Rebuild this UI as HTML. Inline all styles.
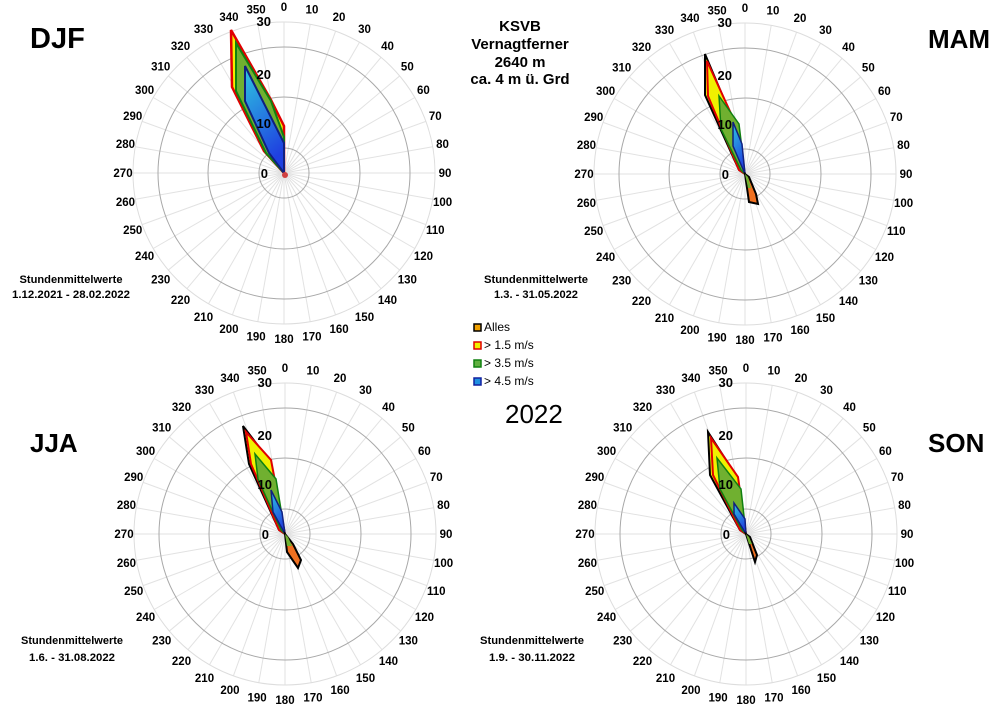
<!DOCTYPE html>
<html><head><meta charset="utf-8"><style>
body{margin:0;background:#fff;}
svg{display:block;font-family:"Liberation Sans",sans-serif;}
</style></head><body>
<svg id="s" width="1005" height="710" viewBox="0 0 1005 710" xmlns="http://www.w3.org/2000/svg">
<defs>
<linearGradient id="bl" x1="0" y1="0" x2="0.3" y2="1"><stop offset="0" stop-color="#2ec8e0"/><stop offset="1" stop-color="#1f3fe0"/></linearGradient>
</defs>
<g id="grids"></g>
<g font-weight="bold" fill="#000">
<text x="30" y="48" font-size="29">DJF</text>
<text x="928" y="48" font-size="26">MAM</text>
<text x="30" y="452" font-size="26">JJA</text>
<text x="928" y="452" font-size="26">SON</text>
<g font-size="15" text-anchor="middle">
<text x="520" y="31">KSVB</text><text x="520" y="49">Vernagtferner</text><text x="520" y="67">2640 m</text><text x="520" y="84">ca. 4 m ü. Grd</text>
</g>
<g font-size="11" text-anchor="middle">
<text x="71" y="283" textLength="103" lengthAdjust="spacingAndGlyphs">Stundenmittelwerte</text><text x="71" y="298" textLength="118" lengthAdjust="spacingAndGlyphs">1.12.2021 - 28.02.2022</text>
<text x="536" y="283" textLength="104" lengthAdjust="spacingAndGlyphs">Stundenmittelwerte</text><text x="536" y="298" textLength="84" lengthAdjust="spacingAndGlyphs">1.3. - 31.05.2022</text>
<text x="72" y="644" textLength="102" lengthAdjust="spacingAndGlyphs">Stundenmittelwerte</text><text x="72" y="661" textLength="86" lengthAdjust="spacingAndGlyphs">1.6. - 31.08.2022</text>
<text x="532" y="644" textLength="104" lengthAdjust="spacingAndGlyphs">Stundenmittelwerte</text><text x="532" y="661" textLength="86" lengthAdjust="spacingAndGlyphs">1.9. - 30.11.2022</text>
</g>
<text x="505" y="423" font-size="26" font-weight="normal">2022</text>
</g>
<g font-size="12" fill="#000">
<rect x="474" y="324" width="7" height="7" fill="#f0a000" stroke="#000" stroke-width="1.5"/><text x="484" y="331">Alles</text>
<rect x="474" y="342" width="7" height="7" fill="#f0f000" stroke="#e00000" stroke-width="1.5"/><text x="484" y="349">&gt; 1.5 m/s</text>
<rect x="474" y="360" width="7" height="7" fill="#60b040" stroke="#108010" stroke-width="1.5"/><text x="484" y="367">&gt; 3.5 m/s</text>
<rect x="474" y="378" width="7" height="7" fill="#2090e0" stroke="#1020a0" stroke-width="1.5"/><text x="484" y="385">&gt; 4.5 m/s</text>
</g>
<!-- DJF -->
<g transform="translate(284,173)" stroke-linejoin="miter">
<polygon points="-53,-143 -52,-86 -20,-22 0,0 0,-47 -13,-73" fill="#f0f000" stroke="#e00000" stroke-width="2.5"/>
<polygon points="-48,-130 -48,-82 -18,-20 0,0 0,-36 -13,-72" fill="#70b030" stroke="#108010" stroke-width="2"/>
<polygon points="-39,-107 -39,-72 -15,-20 0,0 0,-30" fill="url(#bl)" stroke="#102080" stroke-width="2"/>
<circle cx="1" cy="2" r="3" fill="#d04040"/>
</g>
<!-- MAM -->
<g transform="translate(745,174)">
<polygon points="-40,-120 -40,-79 -6,-4 0,0 -13,-56" fill="#f0f000" stroke="#000" stroke-width="2"/>
<polygon points="-38,-113 -37,-78 -6,-4 0,0 -12,-56" fill="#f0f000" stroke="#e00000" stroke-width="2"/>
<polygon points="-26,-78 -24,-45 -4,-4 0,0 -6,-50" fill="#70b030" stroke="#108010" stroke-width="1.5"/>
<polygon points="-12,-52 -12,-28 0,0 -3,-30" fill="url(#bl)" stroke="#102080" stroke-width="1.5"/>
<polygon points="0,0 4,28 13,30 11,20 4,3" fill="#f07020" stroke="#000" stroke-width="2"/>
<polygon points="0,0 3,14 6,14 3,3" fill="#70b030"/>
</g>
<!-- JJA -->
<g transform="translate(285,534)">
<polygon points="-42,-108 -36,-70 -6,-4 0,0 -16,-74" fill="#f0f000" stroke="#000" stroke-width="2"/>
<polygon points="-39,-102 -34,-70 -6,-4 0,0 -14,-74" fill="#f0f000" stroke="#e00000" stroke-width="2"/>
<polygon points="-30,-80 -27,-55 -4,-4 0,0 -9,-55" fill="#70b030" stroke="#108010" stroke-width="1.5"/>
<polygon points="-14,-44 -12,-22 0,0 -3,-22" fill="url(#bl)" stroke="#102080" stroke-width="1.5"/>
<polygon points="0,0 2,18 13,34 16,26 8,10" fill="#f07020" stroke="#000" stroke-width="2"/>
<polygon points="0,0 2,12 7,12 3,3" fill="#70b030"/>
</g>
<!-- SON -->
<g transform="translate(746,534)">
<polygon points="-38,-102 -36,-59 -6,-4 0,0 -9,-57" fill="#f0f000" stroke="#000" stroke-width="2"/>
<polygon points="-35,-96 -33,-59 -6,-4 0,0 -8,-57" fill="#f0f000" stroke="#e00000" stroke-width="2"/>
<polygon points="-29,-76 -26,-45 -4,-4 0,0 -5,-45" fill="#70b030" stroke="#108010" stroke-width="1.5"/>
<polygon points="-12,-31 -12,-20 0,0 -1,-15" fill="url(#bl)" stroke="#102080" stroke-width="1.5"/>
<polygon points="0,0 4,3 11,21 9,28" fill="#f07020" stroke="#000" stroke-width="2"/>
<polygon points="0,0 3,10 6,10 3,3" fill="#70b030"/>
</g>
<g id="rl"></g>
</svg>
<script>
var ns="http://www.w3.org/2000/svg",g=document.getElementById("grids"),rl=document.getElementById("rl");
function el(t,a,p){var e=document.createElementNS(ns,t);for(var k in a)e.setAttribute(k,a[k]);(p||g).appendChild(e);return e;}
[[284,173],[745,174],[285,534],[746,534]].forEach(function(c){
 var cx=c[0],cy=c[1];
 for(var d=0;d<360;d+=10){var r=d*Math.PI/180,s=Math.sin(r),co=Math.cos(r);
  el("line",{x1:cx,y1:cy,x2:cx+151*s,y2:cy-151*co,stroke:"#e2e2e2","stroke-width":1});
  var t=el("text",{x:cx+161*s,y:cy-166*co+4,"text-anchor":"middle","font-size":"11.5","font-weight":"bold"});t.textContent=d;}
 el("circle",{cx:cx,cy:cy,r:151,fill:"none",stroke:"#dddddd","stroke-width":1});
 [25,76,126].forEach(function(r){el("circle",{cx:cx,cy:cy,r:r,fill:"none",stroke:"#a8a8a8","stroke-width":1});});
 [["0",-16,5],["10",-13,-45],["20",-13,-94],["30",-13,-147]].forEach(function(l){var t=el("text",{x:cx+l[1],y:cy+l[2],"font-size":"13","font-weight":"bold","text-anchor":"end"},rl);t.textContent=l[0];});
});
</script>
</body></html>
